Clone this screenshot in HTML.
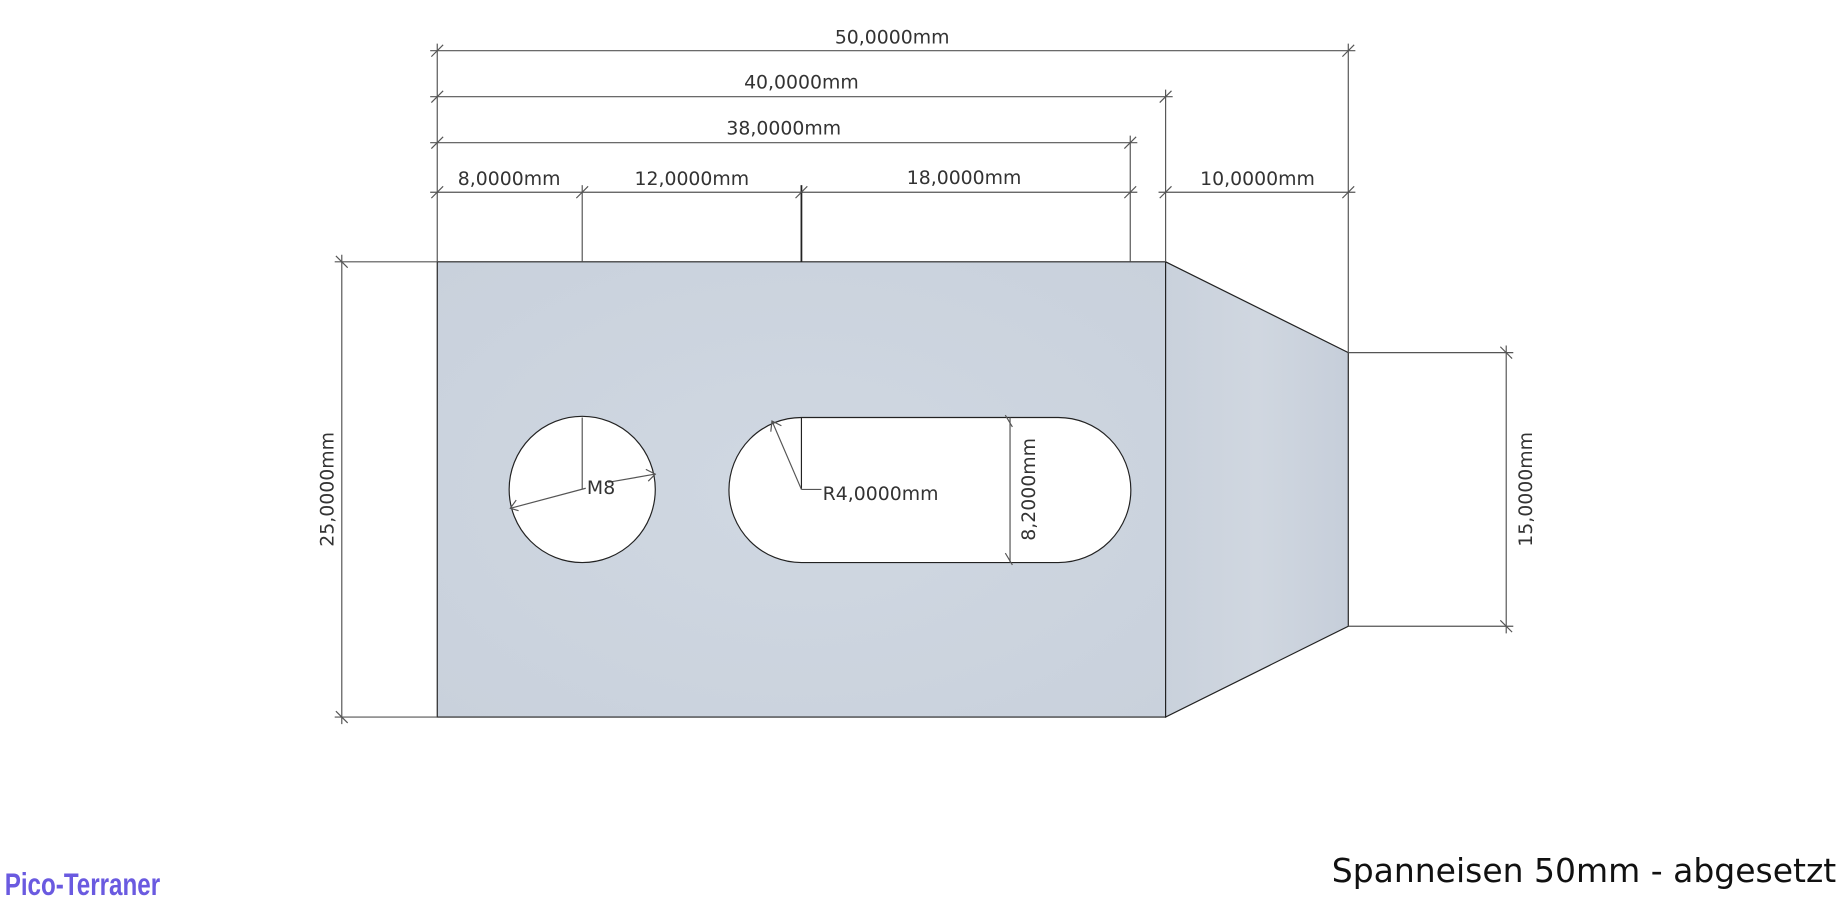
<!DOCTYPE html>
<html><head><meta charset="utf-8"><style>
html,body{margin:0;padding:0;background:#fff;}
svg{display:block;}
text{font-family:"DejaVu Sans","Liberation Sans",sans-serif;fill:#333;}
</style></head><body>
<svg width="1848" height="914" viewBox="0 0 1568 775" preserveAspectRatio="none" xmlns="http://www.w3.org/2000/svg">
<defs>
<radialGradient id="g" cx="50%" cy="50%" r="70%"><stop offset="0" stop-color="#d0d8e2"/><stop offset="1" stop-color="#c9d1dc"/></radialGradient>
<linearGradient id="g2" x1="0" x2="1"><stop offset="0" stop-color="#c9d1dc"/><stop offset="0.5" stop-color="#d0d7e0"/><stop offset="1" stop-color="#c6ceda"/></linearGradient>
</defs>
<path d="M371,222 H989 V608 H371 Z" fill="url(#g)" stroke="#222" stroke-width="1"/>
<path d="M989,222 L1144,299 V531 L989,608 Z" fill="url(#g2)" stroke="#222" stroke-width="1"/>
<circle cx="494" cy="415" r="62" fill="#fff" stroke="#222"/>
<path d="M680,354 H898 A61.5,61.5 0 0 1 898,477 H680 A61.5,61.5 0 0 1 680,354 Z" fill="#fff" stroke="#222"/>
<g stroke="#555" stroke-width="1" fill="none">
<line x1="365" y1="43" x2="1150" y2="43"/>
<line x1="365" y1="82" x2="995" y2="82"/>
<line x1="365" y1="121" x2="965" y2="121"/>
<line x1="365" y1="163" x2="965" y2="163"/>
<line x1="983" y1="163" x2="1150" y2="163"/>
<line x1="371" y1="37" x2="371" y2="222"/>
<line x1="494" y1="157" x2="494" y2="222"/>
<line x1="680" y1="157" x2="680" y2="222" stroke="#222" stroke-width="1.5"/>
<line x1="959" y1="115" x2="959" y2="222"/>
<line x1="989" y1="76" x2="989" y2="222"/>
<line x1="1144" y1="37" x2="1144" y2="299"/>
<path d="M366,48 l10,-10 M1139,48 l10,-10 M366,87 l10,-10 M984,87 l10,-10 M366,126 l10,-10 M954,126 l10,-10 M366,168 l10,-10 M489,168 l10,-10 M675,168 l10,-10 M954,168 l10,-10 M984,168 l10,-10 M1139,168 l10,-10"/>
<line x1="284" y1="222" x2="371" y2="222"/>
<line x1="284" y1="608" x2="371" y2="608"/>
<line x1="290" y1="216" x2="290" y2="614"/>
<path d="M285,217 l10,10 M285,603 l10,10"/>
<line x1="1144" y1="299" x2="1284" y2="299"/>
<line x1="1144" y1="531" x2="1284" y2="531"/>
<line x1="1278" y1="293" x2="1278" y2="537"/>
<path d="M1273,294 l10,10 M1273,526 l10,10"/>
<line x1="494" y1="354" x2="494" y2="415"/>
<line x1="433" y1="431" x2="497" y2="414"/>
<line x1="516" y1="409" x2="556" y2="402"/>
<path d="M438,424 l-5,7 l7,2 M548,398 l8,4 l-6,6"/>
<line x1="680" y1="354" x2="680" y2="415" stroke="#222"/>
<path d="M680,415 L655,357 M680,415 H697"/>
<path d="M654,366 l1,-9 l8,4"/>
<line x1="857" y1="354" x2="857" y2="477"/>
<path d="M853,352 l6,10 M853,469 l6,10"/>
</g>
<g font-size="16" text-anchor="middle">
<text x="757" y="37">50,0000mm</text>
<text x="680" y="75">40,0000mm</text>
<text x="665" y="114">38,0000mm</text>
<text x="432" y="157">8,0000mm</text>
<text x="587" y="157">12,0000mm</text>
<text x="818" y="156">18,0000mm</text>
<text x="1067" y="157">10,0000mm</text>
<text transform="translate(283,415) rotate(-90)">25,0000mm</text>
<text transform="translate(1300,415) rotate(-90)">15,0000mm</text>
<text transform="translate(878,415) rotate(-90)">8,2000mm</text>
<text x="510" y="419">M8</text>
<text x="698" y="424" text-anchor="start">R4,0000mm</text>
</g>
<text x="1558" y="748" font-size="28" text-anchor="end" style="fill:#111">Spanneisen 50mm - abgesetzt</text>
<text x="4" y="759" font-size="27" font-weight="bold" style="fill:#6a5ae0;font-family:'Liberation Sans Narrow','Liberation Sans',sans-serif" transform="translate(4,0) scale(0.76,1) translate(-4,0)">Pico-Terraner</text>
</svg>
</body></html>
